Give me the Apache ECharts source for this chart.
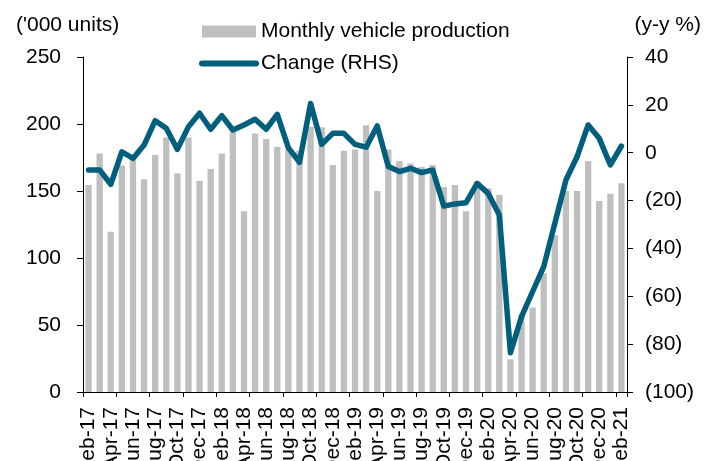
<!DOCTYPE html>
<html>
<head>
<meta charset="utf-8">
<script src="https://cdn.jsdelivr.net/npm/echarts@6/dist/echarts.min.js"></script>
<style>
  html, body { margin: 0; padding: 0; background: #fff; }
  #chart { width: 708px; height: 461px; }
</style>
</head>
<body>
<div id="chart"></div>
<script>
const months = [
  'Feb-17', 'Mar-17', 'Apr-17', 'May-17', 'Jun-17', 'Jul-17', 'Aug-17', 'Sep-17', 'Oct-17', 'Nov-17', 'Dec-17', 'Jan-18',
  'Feb-18', 'Mar-18', 'Apr-18', 'May-18', 'Jun-18', 'Jul-18', 'Aug-18', 'Sep-18', 'Oct-18', 'Nov-18', 'Dec-18', 'Jan-19',
  'Feb-19', 'Mar-19', 'Apr-19', 'May-19', 'Jun-19', 'Jul-19', 'Aug-19', 'Sep-19', 'Oct-19', 'Nov-19', 'Dec-19', 'Jan-20',
  'Feb-20', 'Mar-20', 'Apr-20', 'May-20', 'Jun-20', 'Jul-20', 'Aug-20', 'Sep-20', 'Oct-20', 'Nov-20', 'Dec-20', 'Jan-21',
  'Feb-21'
]

// '000 units
const production = [
  154.5, 178, 119.6, 169, 173, 158.7, 176.9, 190, 163, 190, 157.5, 166.4,
  178, 194, 134.8, 193, 188.8, 182.8, 181, 180, 198, 197.5, 169.4, 180,
  181, 199, 150, 181, 172.4, 170.6, 168, 169.4, 153, 154.5, 134.8, 157,
  152, 147, 24.4, 58, 63, 88.6, 117, 150, 150, 172.4, 142.5, 148,
  155.7
]

// y-y %
const change = [
  -7.2, -7.2, -13.2, 0.4, -2.4, 3.2, 13.4, 10.2, 1.4, 10.9, 16.5, 9.8,
  15.5, 9.5, 11.6, 14, 9.8, 16, 2, -4, 20.6, 3.5, 8.1, 8.1,
  3.5, 2.3, 11.2, -5.8, -7.9, -6.5, -8.3, -7.2, -22.3, -21.4, -20.9, -12.8,
  -17, -26, -83.6, -68.5, -58, -47.6, -29.5, -11.4, -1.7, 11.6, 6, -5.1,
  2.8
]

const leftTicks = { min: 0, max: 250, interval: 50 }
const rightTicks = { min: -100, max: 40, interval: 20 }

const FONT = 'Liberation Sans, Arial, sans-serif'
const FS = 21
const BAR_COLOR = '#bfbfbf'
const LINE_COLOR = '#005f7c'

const chart = echarts.init(document.getElementById('chart'), null, { renderer: 'canvas' })

const option = {
  animation: false,
  textStyle: { fontFamily: FONT, color: '#000' },
  title: [
    { text: "('000 units)", left: 11, top: 10, textStyle: { fontSize: FS, fontWeight: 'normal', color: '#000', fontFamily: FONT } },
    { text: '(y-y %)', right: 2, top: 10, textStyle: { fontSize: FS, fontWeight: 'normal', color: '#000', fontFamily: FONT } }
  ],
  legend: {
    orient: 'vertical',
    left: 194,
    top: 16,
    itemWidth: 54,
    itemHeight: 12,
    itemGap: 11,
    textStyle: { fontSize: FS, color: '#000', fontFamily: FONT, lineHeight: 21 },
    data: [
      { name: 'Monthly vehicle production', icon: 'rect' },
      {
        name: 'Change (RHS)',
        itemStyle: { opacity: 0 },
        lineStyle: { width: 6, cap: 'round', color: LINE_COLOR }
      }
    ]
  },
  grid: { left: 83, right: 81, top: 57, bottom: 69, containLabel: false, outerBoundsMode: 'none' },
  xAxis: {
    type: 'category',
    data: months,
    boundaryGap: true,
    axisLine: { lineStyle: { color: '#000', width: 1 } },
    axisTick: { show: true, interval: 2, length: 5, lineStyle: { color: '#000' } },
    axisLabel: { interval: 1, rotate: 90, margin: 15, fontSize: FS, color: '#000', fontFamily: FONT }
  },
  yAxis: [
    {
      type: 'value',
      min: leftTicks.min, max: leftTicks.max, interval: leftTicks.interval,
      splitLine: { show: false },
      axisLine: { show: true, lineStyle: { color: '#000', width: 1 } },
      axisTick: { show: true, length: 6, lineStyle: { color: '#000' } },
      axisLabel: { margin: 22, fontSize: FS, color: '#000', fontFamily: FONT }
    },
    {
      type: 'value',
      position: 'right',
      min: rightTicks.min, max: rightTicks.max, interval: rightTicks.interval,
      splitLine: { show: false },
      axisLine: { show: true, lineStyle: { color: '#000', width: 1 } },
      axisTick: { show: true, length: 6, lineStyle: { color: '#000' } },
      axisLabel: {
        margin: 18, fontSize: FS, color: '#000', fontFamily: FONT,
        formatter: v => (v < 0 ? '(' + (-v) + ')' : String(v))
      }
    }
  ],
  series: [
    {
      name: 'Monthly vehicle production',
      type: 'bar',
      data: production,
      barWidth: '57%',
      itemStyle: { color: BAR_COLOR }
    },
    {
      name: 'Change (RHS)',
      type: 'line',
      yAxisIndex: 1,
      data: change,
      symbol: 'none',
      showSymbol: false,
      lineStyle: { color: LINE_COLOR, width: 5.5, cap: 'round', join: 'round' },
      itemStyle: { color: LINE_COLOR }
    }
  ]
}

chart.setOption(option)
</script>
</body>
</html>
